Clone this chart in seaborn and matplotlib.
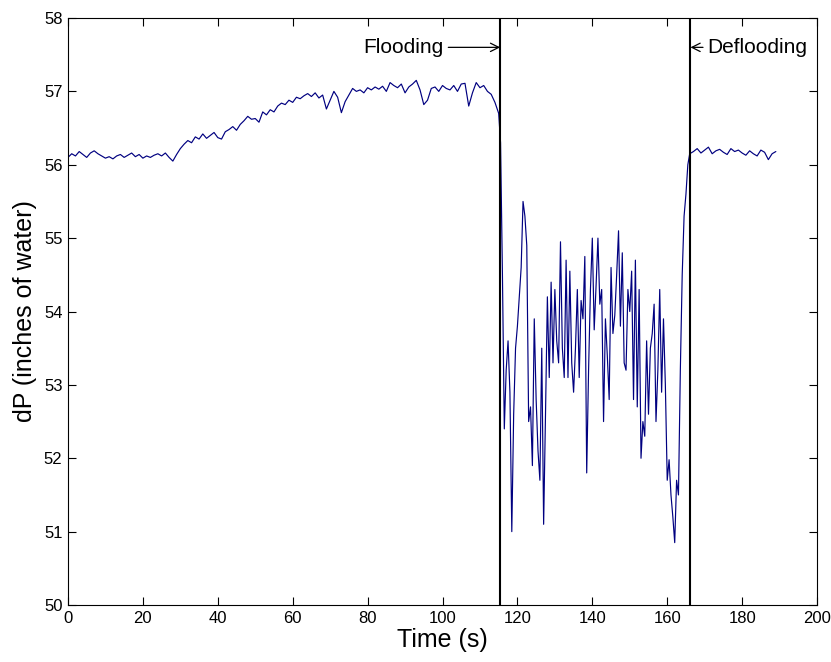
import numpy as np
import pandas as pd
import matplotlib
matplotlib.use("Agg")
import matplotlib.pyplot as plt
import seaborn as sns

# ---- data ----
t_pre = list(range(0, 116))
v_pre = [56.10, 56.15, 56.12, 56.18, 56.14, 56.10, 56.16, 56.19, 56.15, 56.12, 56.09,
         56.11, 56.08, 56.12, 56.14, 56.10, 56.13, 56.16, 56.11, 56.14, 56.09,
         56.12, 56.10, 56.13, 56.15, 56.12, 56.16, 56.10, 56.05, 56.14, 56.22,
         56.28, 56.33, 56.30, 56.38, 56.35, 56.42, 56.36, 56.40, 56.44, 56.37,
         56.35, 56.45, 56.48, 56.52, 56.47, 56.55, 56.60, 56.66, 56.62, 56.63,
         56.58, 56.72, 56.68, 56.75, 56.72, 56.80, 56.84, 56.82, 56.88, 56.85,
         56.92, 56.90, 56.94, 56.97, 56.93, 56.98, 56.91, 56.95, 56.76, 56.88,
         57.00, 56.92, 56.71, 56.86, 56.95, 57.04, 57.00, 57.02, 56.98, 57.05,
         57.02, 57.06, 57.03, 57.07, 57.00, 57.12, 57.08, 57.05, 57.10, 56.98,
         57.06, 57.10, 57.15, 57.02, 56.82, 56.88, 57.04, 57.06, 57.00, 57.08,
         57.04, 57.02, 57.08, 57.00, 57.10, 57.11, 56.80, 56.98, 57.12, 57.05,
         57.08, 57.00, 56.96, 56.85, 56.70]

t_flood = [115.5 + 0.5 * i for i in range(102)]
v_flood = [56.3, 54.5, 52.4, 53.2, 53.6, 52.9, 51.0, 52.6, 53.5, 53.8,
           54.2, 54.6, 55.5, 55.3, 54.9, 52.5, 52.7, 51.9, 53.9, 52.8,
           52.1, 51.7, 53.5, 51.1, 52.6, 54.2, 53.1, 54.4, 53.3, 54.3,
           53.6, 53.3, 54.95, 53.5, 53.1, 54.7, 53.1, 54.55, 53.3, 52.9,
           53.5, 54.3, 53.1, 54.15, 53.9, 54.75, 51.8, 53.2, 54.3, 55.0,
           53.75, 54.35, 55.0, 54.1, 54.3, 52.5, 53.9, 53.4, 52.8, 54.6,
           53.7, 53.95, 54.5, 55.1, 53.8, 54.8, 53.3, 53.2, 54.3, 54.0,
           54.55, 52.8, 54.7, 52.7, 54.3, 52.0, 52.5, 52.3, 53.6, 52.6,
           53.5, 53.7, 54.1, 52.5, 53.2, 54.3, 52.9, 53.9, 53.0, 51.7,
           51.98, 51.5, 51.2, 50.85, 51.7, 51.5, 53.2, 54.5, 55.3, 55.6,
           56.0, 56.15]

t_post = list(range(167, 190))
v_post = [56.18, 56.22, 56.16, 56.20, 56.24, 56.15, 56.19, 56.21, 56.17, 56.14,
          56.22, 56.18, 56.20, 56.16, 56.13, 56.19, 56.15, 56.12, 56.20, 56.17,
          56.07, 56.15, 56.18]

event_times = [115.4, 166.2]
event_labels = ["Flooding", "Deflooding"]
x_ticks = list(range(0, 201, 20))
y_ticks = list(range(50, 59))

df = pd.DataFrame({
    "time": t_pre + t_flood + t_post,
    "dp": v_pre + v_flood + v_post,
})

sns.set_theme(style="ticks")
plt.rcParams["font.family"] = ["Liberation Sans", "DejaVu Sans"]
plt.rcParams["text.color"] = "black"
plt.rcParams["axes.labelcolor"] = "black"

fig = plt.figure(figsize=(8.31, 6.62), dpi=100)
ax = fig.add_axes([0.0818, 0.0861, 0.9014, 0.8867])

sns.lineplot(data=df, x="time", y="dp", ax=ax, color="#000080",
             linewidth=0.85, estimator=None, sort=False)

for et in event_times:
    ax.axvline(et, color="black", linewidth=1.5)

ax.annotate(event_labels[0], xy=(event_times[0], 57.6), xytext=(100.3, 57.6),
            ha="right", va="center", fontsize=15, color="black",
            arrowprops=dict(arrowstyle="->", color="black", lw=0.9,
                            shrinkA=1, shrinkB=0))
ax.annotate(event_labels[1], xy=(event_times[1], 57.6), xytext=(170.8, 57.6),
            ha="left", va="center", fontsize=15, color="black",
            arrowprops=dict(arrowstyle="->", color="black", lw=0.9,
                            shrinkA=1, shrinkB=0))

ax.set_xlim(0, 200)
ax.set_ylim(50, 58)
ax.set_xticks(x_ticks)
ax.set_yticks(y_ticks)
ax.tick_params(direction="in", top=True, right=True, length=6, width=0.8,
               labelsize=12, colors="black", pad=4)
for s in ax.spines.values():
    s.set_visible(True)
    s.set_color("black")
    s.set_linewidth(0.8)

ax.set_xlabel("Time (s)", fontsize=18, labelpad=2)
ax.set_ylabel("dP (inches of water)", fontsize=18, labelpad=5)

fig.savefig("out.png", dpi=100, facecolor="white")
